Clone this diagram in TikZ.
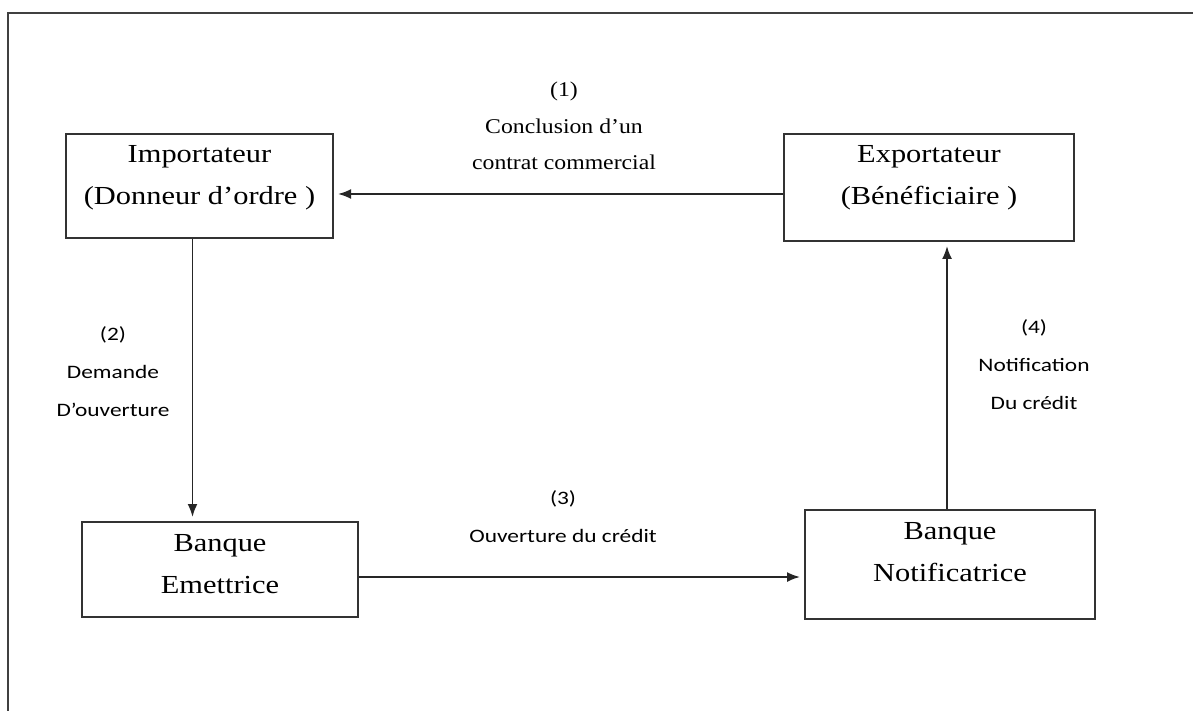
\documentclass[tikz,border=0pt]{standalone}
\usepackage{fontspec}
\setmainfont{Liberation Serif}
\newfontfamily\boxfont[FakeStretch=1.17]{Liberation Serif}
\newfontfamily\noteserif[FakeStretch=1.13]{Liberation Serif}
\newfontfamily\notesans[FakeStretch=1.23]{Carlito}
\usetikzlibrary{arrows.meta}
\tikzset{bloc/.style={draw=black!80, line width=1pt, align=center, inner sep=0pt, text height=30pt, font=\boxfont\fontsize{13}{21}\selectfont},
         etape/.style={align=center, inner sep=0pt, text height=#1, text depth=0pt},
         flow/.style={draw=black!85, line width=0.9pt, -{Latex[length=6.5pt,width=5pt]}, shorten >=2pt},
         cadre/.style={draw=black!75, line width=1pt}}

\begin{document}
\begin{tikzpicture}[x=0.5pt,y=-0.5pt]
       \useasboundingbox (0,0) rectangle (1193,711);
       \draw[cadre] (8,711) -- (8,13) -- (1193,13);
       % les quatre partenaires
       \node[bloc, minimum width=133.5pt, minimum height=52pt, text depth=11pt] (imp) at (199.5,186) {Importateur\\(Donneur d’ordre )};
       \node[bloc, minimum width=145pt, minimum height=53.5pt, text depth=12.5pt] (exp) at (929,187.5) {Exportateur\\(Bénéficiaire )};
       \node[bloc, minimum width=138pt, minimum height=47.5pt, text depth=6.5pt] (emet) at (220,569.5) {Banque\\Emettrice};
       \node[bloc, minimum width=145pt, minimum height=54.5pt, text depth=13.5pt] (notif) at (950,564.5) {Banque\\Notificatrice};
       % les etapes
       \node[etape=36.5pt, font=\noteserif\fontsize{10.5}{18.25}\selectfont] (lab1) at (564,133.5) {(1)\\Conclusion d’un\\contrat commercial};
       \node[etape=38pt, font=\notesans\fontsize{9.5}{19}\selectfont] (lab2) at (113,378.5) {(2)\\Demande\\D’ouverture};
       \node[etape=19pt, font=\notesans\fontsize{9.5}{19}\selectfont] (lab3) at (563,523.5) {(3)\\Ouverture du crédit};
       \node[etape=38pt, font=\notesans\fontsize{9.5}{19}\selectfont] (lab4) at (1034,371.5) {(4)\\Notification\\Du crédit};
       \coordinate (c2) at ([xshift=-3.5pt]imp.south);
       \coordinate (c3) at ([yshift=-3.75pt]emet.east);
       \coordinate (c4) at ([xshift=-1.5pt]notif.north);
       \draw[flow] ([yshift=-3.25pt]exp.west) -- ([yshift=-4pt]imp.east);
       \draw[flow] (c2) -- (c2 |- emet.north);
       \draw[flow] (c3) -- (c3 -| notif.west);
       \draw[flow] (c4) -- (c4 |- exp.south);
\end{tikzpicture}
\end{document}
